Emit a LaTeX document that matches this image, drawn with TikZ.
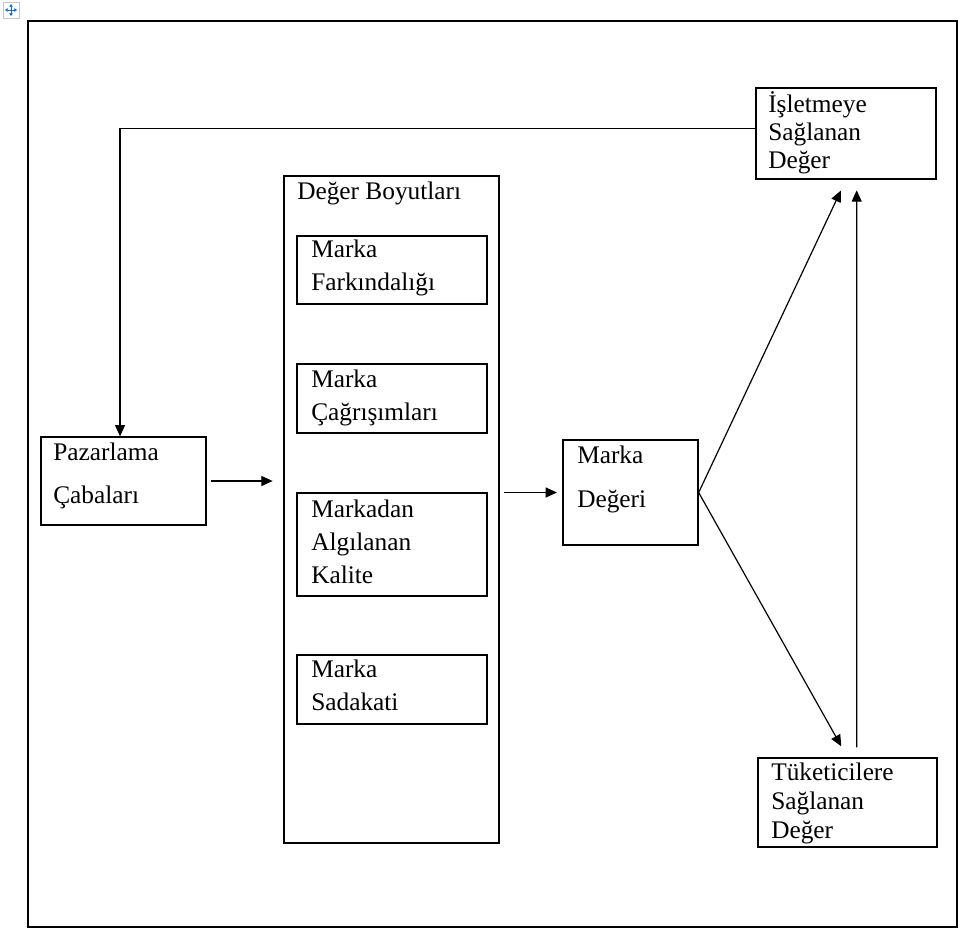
\documentclass[tikz,border=0pt]{standalone}
\usepackage{fontspec}
\setmainfont{Liberation Serif}
\usetikzlibrary{arrows.meta, positioning, calc, fit}
\tikzset{
  box/.style={rectangle, draw=black, line width=1pt, inner sep=0pt},
  txt/.style={font=\fontsize{19}{#1}\selectfont, align=left, inner sep=0pt, anchor=base west},
  txt/.default=24.75pt,
  arrow/.style={-{Triangle[length=8.5pt, width=7.5pt]}, line width=0.9pt},
}
\begin{document}
\begin{tikzpicture}[x=0.75pt, y=-0.75pt]
\useasboundingbox (0,0) rectangle (961,940);

% ── Taşıma simgesi ve dış çerçeve ───────────────────────────────────────────
\draw[gray!45, fill=white] (3,2) rectangle (19,18);
\draw[{Triangle[length=2pt, width=2.6pt]}-{Triangle[length=2pt, width=2.6pt]},
      blue!60!cyan, line width=0.7pt] (5,10) -- (17,10);
\draw[{Triangle[length=2pt, width=2.6pt]}-{Triangle[length=2pt, width=2.6pt]},
      blue!60!cyan, line width=0.7pt] (11,4) -- (11,16);
\node[box, fit={(28,21) (957,927)}] (frame) {};

% ── Kutular (metin: son satırın taban çizgisine göre) ──────────────────────
\node[box, fit={(41,437) (206,525)}] (paz) {};
\node[txt=32.25pt] (pazT) at (53,503) {Pazarlama\\Çabaları};

\node[box, fit={(284,176) (499,843)}] (dim) {};
\node[txt] (dimT) at (297,199) {Değer Boyutları};

\node[box, fit={(297,236) (487,304)}] (b1) {};
\node[txt] (b1T) at (311,290) {Marka\\Farkındalığı};
\node[box, fit={(297,364) (487,433)}] (b2) {};
\node[txt] (b2T) at (311,420) {Marka\\Çağrışımları};
\node[box, fit={(297,493) (487,596)}] (b3) {};
\node[txt] (b3T) at (311,583) {Markadan\\Algılanan\\Kalite};
\node[box, fit={(297,655) (487,724)}] (b4) {};
\node[txt] (b4T) at (311,710) {Marka\\Sadakati};

\node[box, fit={(563,440) (698,545)}] (md) {};
\node[txt=33pt] (mdT) at (577,507) {Marka\\Değeri};

\node[box, fit={(756,88) (936,179)}] (isl) {};
\node[txt=21pt] (islT) at (768,168) {İşletmeye\\Sağlanan\\Değer};

\node[box, fit={(758,758) (937,847)}] (tuk) {};
\node[txt=21.75pt] (tukT) at (771,838) {Tüketicilere\\Sağlanan\\Değer};

% ── Oklar ───────────────────────────────────────────────────────────────────
\draw[arrow] ([yshift=4pt]isl.west) -| ([xshift=-2.6pt]paz.north);
\draw[arrow, shorten <=3pt, shorten >=8pt] (paz.east) -- (paz.east -| dim.west);
\draw[arrow, shorten <=3pt, shorten >=4pt] (md.west -| dim.east) -- (md.west);
\draw[arrow, shorten >=9pt] (md.east) -- (isl.south);
\draw[arrow, shorten >=9.5pt] (md.east) -- (tuk.north);
\draw[arrow, shorten <=7.5pt, shorten >=8pt]
  ([xshift=7pt]tuk.north) -- ([xshift=8pt]isl.south);

\end{tikzpicture}
\end{document}
